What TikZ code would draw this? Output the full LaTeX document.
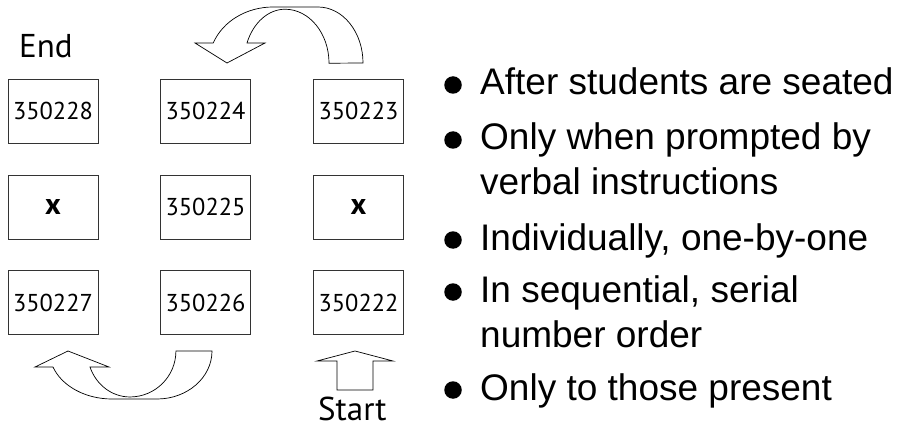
\documentclass[tikz,border=0pt]{standalone}
\usepackage{fontspec}
\setmainfont{Liberation Sans}
\newfontfamily\comicfont{PT Sans}
\tikzset{
  seat/.style={draw=black!80, line width=0.9pt, minimum width=90pt, minimum height=64pt, inner sep=0pt, font=\comicfont\fontsize{24.4}{28}\selectfont},
  xseat/.style={seat, font=\comicfont\bfseries\fontsize{30}{34}\selectfont},
  blockarrow/.style={draw=black, fill=white, line width=0.7pt, line join=miter},
  btext/.style={anchor=base west, inner sep=0pt, font=\fontsize{37}{44}\selectfont},
  bullet/.style={circle, fill=black, draw=none, minimum size=17.5pt, inner sep=0pt},
  label/.style={anchor=base west, inner sep=0pt}
}
\begin{document}
\begin{tikzpicture}[x=1pt,y=1pt]
\useasboundingbox (0,0) rectangle (899,429);
% seats
\node[seat] (b228) at (53,318) {350228};
\node[seat] (b224) at (205.5,318) {350224};
\node[seat] (b223) at (358.5,318) {350223};
\node[xseat] (bx1) at (53,222) {x};
\node[seat] (b225) at (205.5,222) {350225};
\node[xseat] (bx2) at (358.5,222) {x};
\node[seat] (b227) at (53,126.5) {350227};
\node[seat] (b226) at (205.5,126.5) {350226};
\node[seat] (b222) at (358.5,126.5) {350222};
% labels
\node[label, font=\comicfont\fontsize{33}{38}\selectfont] (end) at (19,371) {End};
\node[label, font=\comicfont\fontsize{33}{38}\selectfont] (start) at (318,9) {Start};
% top curved arrow
\draw[blockarrow] (363,366) arc[start angle=0,end angle=90,x radius=45,y radius=56]
  -- (273,422) arc[start angle=90,end angle=159,x radius=64,y radius=56]
  -- (195,386) -- (227,366) -- (265,386) -- (247,386)
  arc[start angle=158,end angle=90,x radius=41,y radius=54]
  arc[start angle=90,end angle=0,x radius=44,y radius=54] -- cycle;
% bottom curved arrow
\draw[blockarrow] (212,78) arc[start angle=0,end angle=-90,x radius=55,y radius=48]
  -- (112,30) arc[start angle=-90,end angle=-160.5,x radius=62.6,y radius=48]
  -- (35,62) -- (68,78) -- (109,62) -- (90,62)
  arc[start angle=-159.6,end angle=-90,x radius=42.6,y radius=46]
  arc[start angle=-90,end angle=0,x radius=46,y radius=46] -- cycle;
% straight start arrow
\draw[blockarrow] (337,39) -- (337,68) -- (317,68) -- (355,78) -- (393,68) -- (373,68) -- (373,39) -- cycle;
% bullets
\node[bullet] (d1) at (453,344) {};
\node[bullet] (d2) at (453,289) {};
\node[bullet] (d3) at (453,189) {};
\node[bullet] (d4) at (453,137) {};
\node[bullet] (d5) at (453,39) {};
\node[btext] (t1) at (480,334) {After students are seated};
\node[btext] (t2a) at (480,279) {Only when prompted by};
\node[btext] (t2b) at (480,234) {verbal instructions};
\node[btext] (t3) at (480,179) {Individually, one-by-one};
\node[btext] (t4a) at (480,127) {In sequential, serial};
\node[btext] (t4b) at (480,82) {number order};
\node[btext] (t5) at (480,29) {Only to those present};
\end{tikzpicture}
\end{document}
